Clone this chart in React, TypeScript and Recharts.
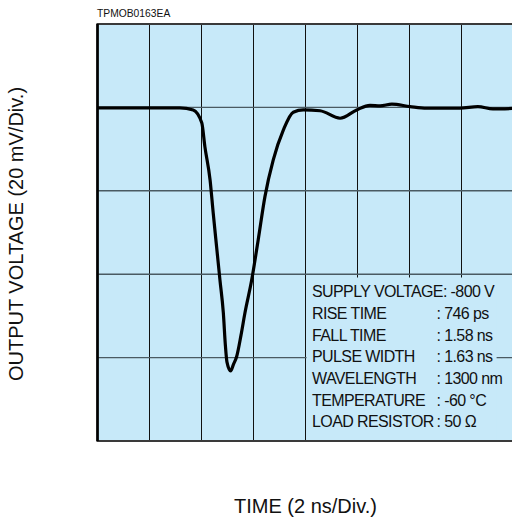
import React from 'react';
import { LineChart, Line, XAxis, YAxis, CartesianGrid, ReferenceArea, ReferenceLine } from 'recharts';

const timeNs = [0, 3.17, 3.68, 4.01, 4.13, 4.33, 4.45, 4.58, 4.71, 4.84, 4.92, 4.98, 5.12, 5.23, 5.35, 5.52, 5.67, 5.93, 6.18, 6.44, 6.76, 7.15, 7.53, 7.92, 8.56, 9.33, 9.97, 10.48, 10.87, 11.32, 12.02, 12.66, 13.94, 14.63, 15.21, 16];
const outputMv = [-0.1, -0.1, -0.6, -3.7, -9.4, -17.4, -25.3, -33.4, -41.4, -49.3, -57.2, -61.1, -63.2, -61.6, -59.8, -54.6, -49.3, -41.4, -31.8, -21.4, -12.6, -5.4, -1.15, -0.6, -0.8, -2.6, -0.6, 0.5, 0.36, 0.77, 0.19, -0.19, -0.19, 0.19, -0.36, -0.24];

const xTicks = [0, 2, 4, 6, 8, 10, 12, 14, 16];
const yTicks = [-80, -60, -40, -20, 0, 20];

const infoLabels = ['SUPPLY VOLTAGE: -800 V', 'RISE TIME', 'FALL TIME', 'PULSE WIDTH', 'WAVELENGTH', 'TEMPERATURE', 'LOAD RESISTOR'];
const infoValues = ['', ': 746 ps', ': 1.58 ns', ': 1.63 ns', ': 1300 nm', ': -60 °C', ': 50 Ω'];

const data = timeNs.map((t, i) => ({ t, v: outputMv[i] }));

const BG = '#c7e9f9';
const FONT = '"Liberation Sans", Arial, Helvetica, sans-serif';

export default function App() {
  return (
    <div style={{ position: 'absolute', left: 0, top: 0, width: 512, height: 521, overflow: 'hidden', background: '#fff' }}>
      <LineChart width={531} height={521} data={data} margin={{ top: 24, left: 97.5, right: 17.5, bottom: 80 }}>
        <XAxis dataKey="t" type="number" domain={[0, 16]} ticks={xTicks} hide />
        <YAxis type="number" domain={[-80, 20]} ticks={yTicks} hide />
        <CartesianGrid fill={BG} fillOpacity={1} horizontal={false} stroke="#111" strokeWidth={1} />
        <CartesianGrid vertical={false} stroke="#4a5a62" strokeWidth={1.4} />
        <ReferenceArea x1={8.04} x2={15.35} y1={-80} y2={-40.8} fill={BG} fillOpacity={1} stroke="none" />
        <ReferenceArea x1={0} x2={16} y1={-80} y2={20} fill="none" fillOpacity={0} stroke="#3a3a3a" strokeWidth={2} />
        <ReferenceLine x={0} stroke="#000" strokeWidth={2.6} />
        <Line dataKey="v" type="monotone" stroke="#000" strokeWidth={3.2} dot={false} isAnimationActive={false} />
      </LineChart>
      <svg width={512} height={521} style={{ position: 'absolute', left: 0, top: 0, pointerEvents: 'none' }} fontFamily={FONT}>
        <text x={97} y={16.7} fontSize={10.3} fill="#111">TPMOB0163EA</text>
        <text transform="translate(23.3,234) rotate(-90)" textAnchor="middle" fontSize={20} fill="#111">OUTPUT VOLTAGE (20 mV/Div.)</text>
        <text x={305.5} y={513.3} textAnchor="middle" fontSize={20} fill="#111">TIME (2 ns/Div.)</text>
        {infoLabels.map((lab, i) => (
          <text key={'l' + i} x={312} y={297.3 + i * 21.67} fontSize={16} letterSpacing={-0.6} fill="#111">{lab}</text>
        ))}
        {infoValues.map((val, i) => (
          <text key={'v' + i} x={436.5} y={297.3 + i * 21.67} fontSize={16} letterSpacing={-0.6} fill="#111">{val}</text>
        ))}
      </svg>
    </div>
  );
}
